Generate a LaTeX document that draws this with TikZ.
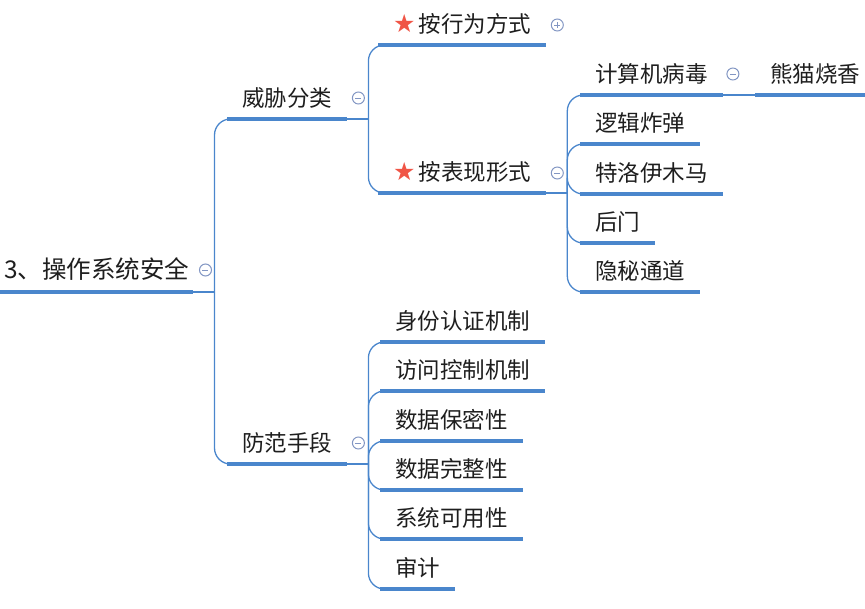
\documentclass[tikz,border=0pt]{standalone}
\usepackage{fontspec}
\newfontfamily\cjk{Noto Sans CJK SC}
\newfontfamily\sym{DejaVu Sans}
\definecolor{linecol}{RGB}{74,134,204}
\definecolor{togglecol}{RGB}{130,150,195}
\definecolor{starcol}{RGB}{240,85,70}
\definecolor{textcol}{RGB}{30,30,30}
\newcommand{\starmark}{{\sym\fontsize{25}{25}\selectfont\color{starcol}★}\hspace{3pt}}
\begin{document}
\begin{tikzpicture}[x=1pt,y=-1pt,
    topic/.style={anchor=south west,inner xsep=15pt,inner ysep=0pt,text height=17pt,text depth=12.5pt,text=textcol,font=\cjk\fontsize{22.5}{26}\selectfont},
    roottopic/.style={topic,inner xsep=4pt,text depth=13pt,font=\cjk\fontsize{24.5}{28}\selectfont},
    underline/.style={draw=linecol,line width=3.3pt},
    branch/.style={draw=linecol,line width=1.3pt,rounded corners=16pt},
    toggle/.style={circle,draw=togglecol,fill=white,line width=1pt,minimum size=12pt,inner sep=0pt},
    collapse/.style={toggle,path picture={\draw[togglecol,line width=1pt] ([xshift=-3pt]path picture bounding box.center)--([xshift=3pt]path picture bounding box.center);}},
    expand/.style={toggle,path picture={\draw[togglecol,line width=1pt] ([xshift=-3pt]path picture bounding box.center)--([xshift=3pt]path picture bounding box.center) ([yshift=-3pt]path picture bounding box.center)--([yshift=3pt]path picture bounding box.center);}}]
\useasboundingbox (0,0) rectangle (865,608);
\node [roottopic] (root) at (0,292) {3、操作系统安全};
\node [topic] (threat) at (227,119) {威胁分类};
\node [topic] (defense) at (227,464) {防范手段};
\node [topic] (behavior) at (378,45) {\starmark 按行为方式};
\node [topic] (form) at (378,193) {\starmark 按表现形式};
\node [topic] (virus) at (580,95) {计算机病毒};
\node [topic] (logic) at (580,144) {逻辑炸弹};
\node [topic] (trojan) at (580,194) {特洛伊木马};
\node [topic] (backdoor) at (580,243) {后门};
\node [topic] (covert) at (580,292) {隐秘通道};
\node [topic] (panda) at (755,95) {熊猫烧香};
\node [topic] (auth) at (380,342) {身份认证机制};
\node [topic] (access) at (380,391) {访问控制机制};
\node [topic] (secrecy) at (380,441) {数据保密性};
\node [topic] (integrity) at (380,490) {数据完整性};
\node [topic] (avail) at (380,539) {系统可用性};
\node [topic] (audit) at (380,589) {审计};
\foreach \n in {root,threat,defense,form,virus}
    \coordinate (\n fork) at ([xshift=21pt]\n.south east);
\draw[branch] (root.south east)--(rootfork);
\draw[branch] (threat.south east)--(threatfork);
\draw[branch] (form.south east)--(formfork);
\draw[branch] (defense.south east)--(defensefork);
\foreach \c in {threat,defense}
    \draw[branch] (rootfork)|-(\c.south west);
\foreach \c in {behavior,form}
    \draw[branch] (threatfork)|-(\c.south west);
\foreach \c in {virus,logic,trojan,backdoor,covert}
    \draw[branch] (formfork)|-(\c.south west);
\foreach \c in {auth,access,secrecy,integrity,avail,audit}
    \draw[branch] (defensefork)|-(\c.south west);
\draw[branch] (virus.south east)--(panda.south west);
\foreach \n in {root,threat,defense,behavior,form,virus,logic,trojan,backdoor,covert,panda,auth,access,secrecy,integrity,avail,audit}
    \draw[underline] (\n.south west)--(\n.south east);
\node [collapse] (roottoggle) at ([xshift=12pt,yshift=22pt]root.south east) {};
\node [collapse] (threattoggle) at ([xshift=11pt,yshift=21pt]threat.south east) {};
\node [collapse] (defensetoggle) at ([xshift=11pt,yshift=21pt]defense.south east) {};
\node [expand] (behaviortoggle) at ([xshift=11pt,yshift=20pt]behavior.south east) {};
\node [collapse] (formtoggle) at ([xshift=11pt,yshift=20pt]form.south east) {};
\node [collapse] (virustoggle) at ([xshift=10pt,yshift=21pt]virus.south east) {};
\end{tikzpicture}
\end{document}
